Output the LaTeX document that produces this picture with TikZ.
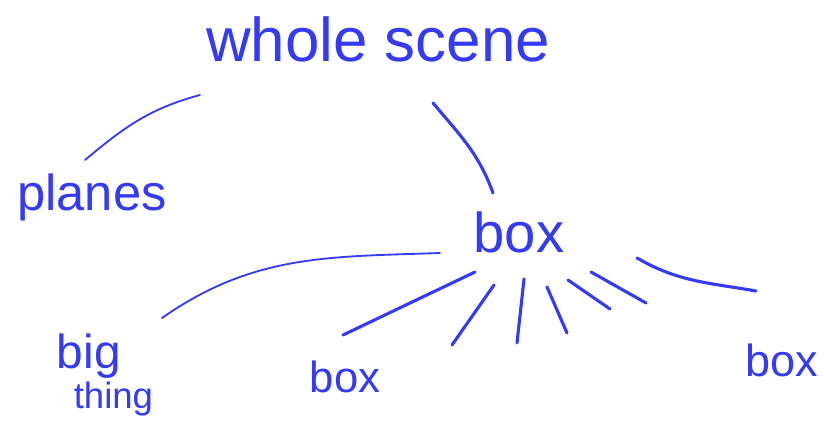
\documentclass[tikz,border=0pt]{standalone}
\usepackage{fontspec}
\setmainfont{Liberation Sans}
\usetikzlibrary{calc}
\definecolor{encre}{RGB}{52,58,245}

\begin{document}
\begin{tikzpicture}[x=0.025cm,y=0.025cm,
	mot/.style={encre, inner sep=0pt},
	trait/.style={encre, line width=2.2pt, line cap=round},
	fin/.style={encre, line width=1.3pt, line cap=round}]
	\useasboundingbox (0,0) rectangle (824,-430);
	% mots
	\node[mot, font={\fontsize{44}{50}\selectfont}] (scene) at (378,-39) {whole scene};
	\node[mot, font={\fontsize{36}{40}\selectfont}] (planes) at (92,-197) {planes};
	\node[mot, font={\fontsize{40}{44}\selectfont}] (box) at (519,-232) {box};
	\node[mot, font={\fontsize{34}{28}\selectfont}, align=left] (thing) at (105,-375)
	{big\\\hspace{12pt}{\fontsize{26}{28}\selectfont thing}};
	\node[mot, font={\fontsize{31}{34}\selectfont}] (boxg) at (345,-377) {box};
	\node[mot, font={\fontsize{32}{36}\selectfont}] (boxd) at (782,-360) {box};
	% liens
	\draw[fin] ($(scene)+(-178,-56)$) to[out=195,in=40] ($(planes)+(-7,37)$);
	\draw[trait] ($(scene)+(55,-64)$) to[out=-50,in=110] ($(box)+(-26,39)$);
	\draw[fin] ($(box)+(-79,-21)$) to[out=182,in=35] ($(thing)+(57,57)$);
	\draw[trait] ($(box)+(-44,-40)$) -- ($(boxg)+(-2,42)$);
	\draw[trait] ($(box)+(118,-26)$) to[out=-30,in=170] ($(boxd)+(-26,69)$);
	% rayons
	\foreach \sx/\sy/\ex/\ey in {-25/-53/-67/-113, 5/-47/-2/-111, 28/-55/48/-101,
		49/-48/91/-77, 72/-40/127/-71}
	\draw[trait] ($(box)+(\sx,\sy)$) -- ($(box)+(\ex,\ey)$);
\end{tikzpicture}
\end{document}
